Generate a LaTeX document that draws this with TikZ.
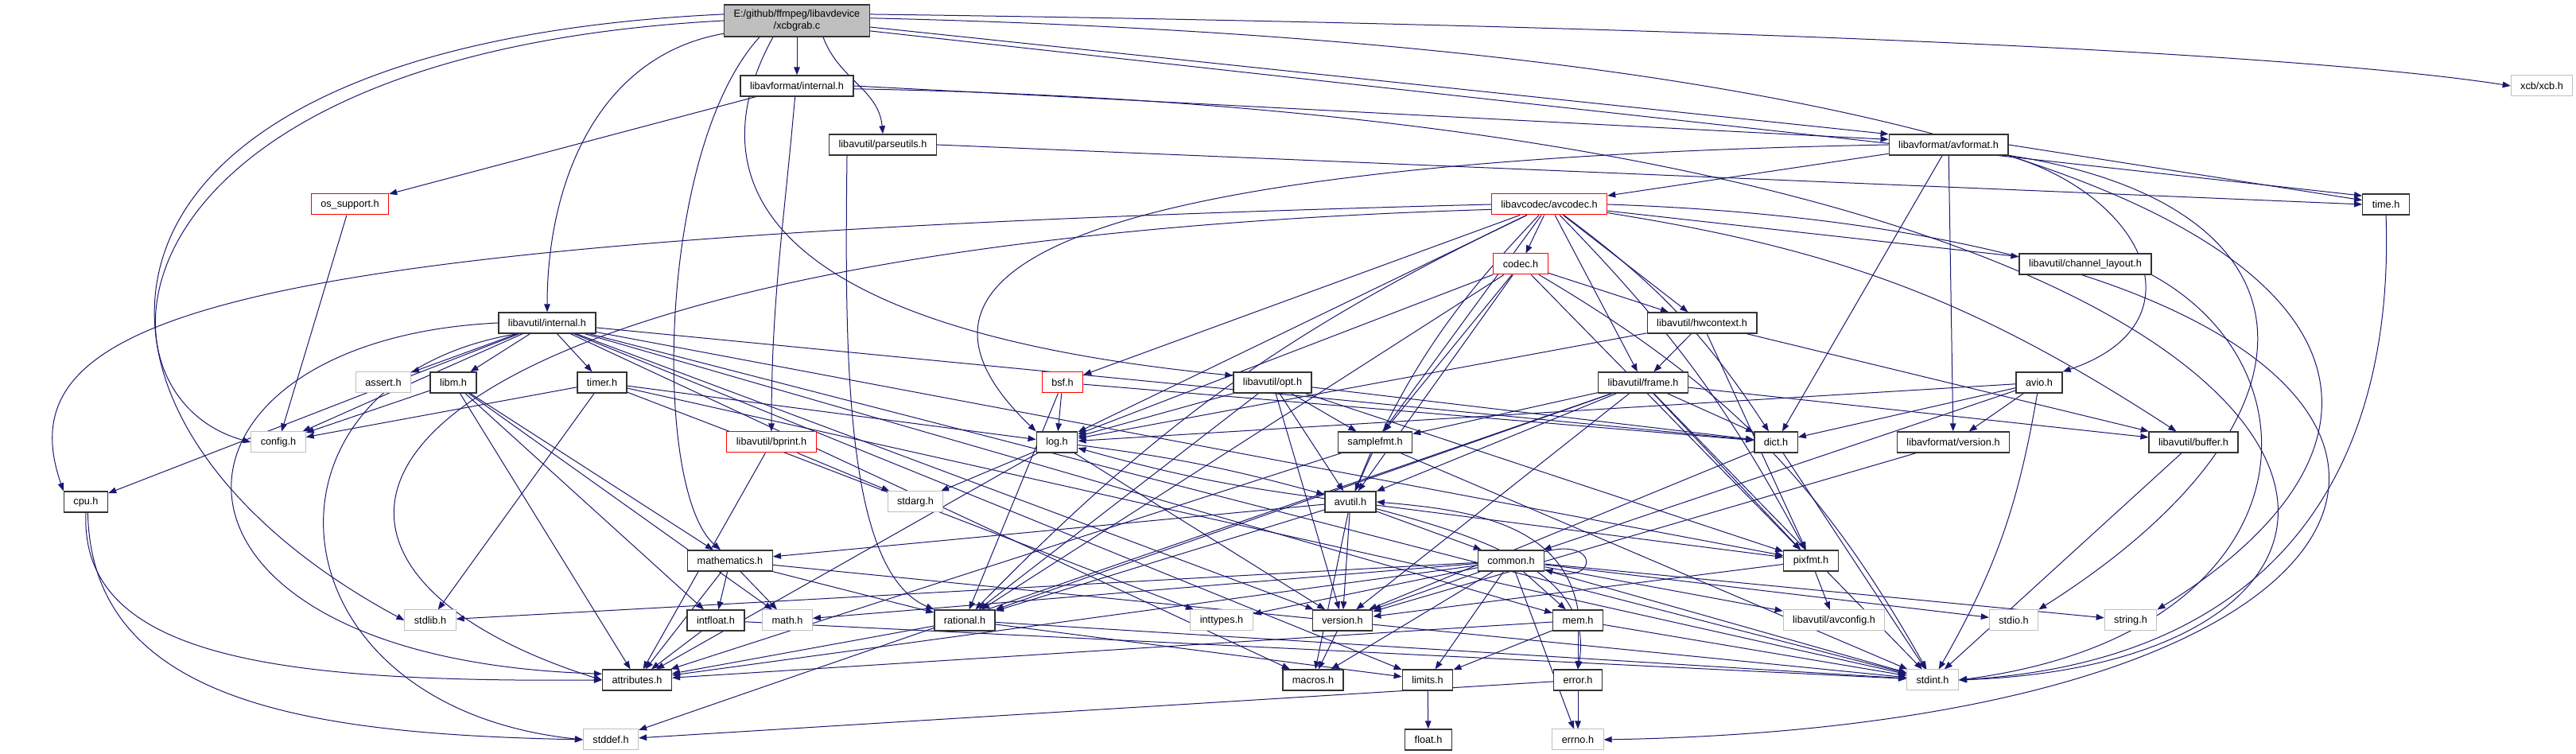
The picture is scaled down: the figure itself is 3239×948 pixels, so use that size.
\documentclass[tikz,border=0pt]{standalone}
\usepackage{fontspec}
\setmainfont{Liberation Sans}
\usepackage{xcolor}
\usepackage{tikz}
\usetikzlibrary{arrows.meta,positioning,backgrounds}
\definecolor{edgeblue}{HTML}{191970}
\definecolor{bk80}{HTML}{333333}
\definecolor{syslight}{HTML}{BFBFBF}
\definecolor{rootgray}{HTML}{BFBFBF}
\definecolor{cutred}{HTML}{FF0000}
\tikzset{
  hdrbox/.style={
    rectangle, draw=#1, fill=white, line width=0.33pt,
    minimum height=6.5pt, inner xsep=3pt, inner ysep=0.5pt,
    font=\fontsize{3.175}{3.75}\selectfont
  },
  hdrbox/.default=bk80,
  sysbox/.style={hdrbox=syslight, line width=0.25pt},
  cutbox/.style={hdrbox=cutred, line width=0.25pt},
  rootbox/.style={hdrbox, fill=rootgray, align=center, minimum height=10pt},
  dep/.style={
    -{Triangle[length=2.5pt,width=1.9pt]}, line width=0.25pt, color=edgeblue
  },
}

\begin{document}
\begin{tikzpicture}[x=0.25pt,y=0.25pt]
  \useasboundingbox (0,0) rectangle (3239,948);
  \node[rootbox] (root) at (1002,922) {E:/github/ffmpeg/libavdevice\\/xcbgrab.c};
  \node[hdrbox] (lavfint) at (1002,840) {libavformat/internal.h};
  \node[sysbox] (xcb) at (3196,840) {xcb/xcb.h};
  \node[hdrbox] (parseutils) at (1110,766) {libavutil/parseutils.h};
  \node[hdrbox] (avformat) at (2450,766) {libavformat/avformat.h};
  \node[cutbox] (ossupport) at (440,691) {os\_support.h};
  \node[cutbox] (avcodec) at (1948,691) {libavcodec/avcodec.h};
  \node[hdrbox] (timeh) at (3000,691) {time.h};
  \node[cutbox] (codec) at (1912,616) {codec.h};
  \node[hdrbox] (chlayout) at (2622,616) {libavutil/channel\_layout.h};
  \node[hdrbox] (lavuint) at (688,542) {libavutil/internal.h};
  \node[hdrbox] (hwctx) at (2140,542) {libavutil/hwcontext.h};
  \node[sysbox] (assert) at (482,467) {assert.h};
  \node[hdrbox] (libm) at (570,467) {libm.h};
  \node[hdrbox] (timer) at (757,467) {timer.h};
  \node[cutbox] (bsf) at (1336,467) {bsf.h};
  \node[hdrbox] (opt) at (1600,467) {libavutil/opt.h};
  \node[hdrbox] (frame) at (2066,467) {libavutil/frame.h};
  \node[hdrbox] (avio) at (2564,467) {avio.h};
  \node[sysbox] (config) at (350,392) {config.h};
  \node[cutbox] (bprint) at (970,392) {libavutil/bprint.h};
  \node[hdrbox] (log) at (1329,392) {log.h};
  \node[hdrbox] (samplefmt) at (1729,392) {samplefmt.h};
  \node[hdrbox] (dict) at (2233,392) {dict.h};
  \node[hdrbox] (lavfver) at (2456,392) {libavformat/version.h};
  \node[hdrbox] (buffer) at (2758,392) {libavutil/buffer.h};
  \node[hdrbox] (cpu) at (108,317) {cpu.h};
  \node[sysbox] (stdarg) at (1151,317) {stdarg.h};
  \node[hdrbox] (avutil) at (1698,317) {avutil.h};
  \node[hdrbox] (mathematics) at (918,243) {mathematics.h};
  \node[hdrbox] (common) at (1900,243) {common.h};
  \node[hdrbox] (pixfmt) at (2277,243) {pixfmt.h};
  \node[sysbox] (stdlib) at (541,168) {stdlib.h};
  \node[hdrbox] (intfloat) at (900,168) {intfloat.h};
  \node[sysbox] (mathh) at (990,168) {math.h};
  \node[hdrbox] (rational) at (1213,168) {rational.h};
  \node[sysbox] (inttypes) at (1536,168) {inttypes.h};
  \node[hdrbox] (version) at (1688,168) {version.h};
  \node[hdrbox] (mem) at (1984,168) {mem.h};
  \node[sysbox] (avconfig) at (2306,168) {libavutil/avconfig.h};
  \node[sysbox] (stdio) at (2532,168) {stdio.h};
  \node[sysbox] (string) at (2679,168) {string.h};
  \node[hdrbox] (attributes) at (801,93) {attributes.h};
  \node[hdrbox] (macros) at (1651,93) {macros.h};
  \node[hdrbox] (limits) at (1795,93) {limits.h};
  \node[hdrbox] (error) at (1984,93) {error.h};
  \node[sysbox] (stdint) at (2430,93) {stdint.h};
  \node[sysbox] (stddef) at (768,18) {stddef.h};
  \node[hdrbox] (floath) at (1796,18) {float.h};
  \node[sysbox] (errno) at (1984,18) {errno.h};
  \begin{scope}[on background layer]
    \fill[white] (0,0) rectangle (3239,948);
    \draw[dep] (root) -- (lavfint);
    \draw[dep] ([xshift=8.25pt]root.south) to[out=-70,in=95] (parseutils.north);
    \draw[dep] (root.190) to[out=190,in=90] (lavuint.north);
    \draw[dep] ([xshift=-11.75pt]root.south) .. controls (826,760) and (820,330) .. ([xshift=-3pt]mathematics.north);
    \draw[dep] ([xshift=-7.5pt]root.south) .. controls (894,760) and (890,540) .. (opt.170);
    \draw[dep] (root.180) .. controls (120,880) and (100,450) .. (config.west);
    \draw[dep] (root.175) .. controls (40,890) and (40,420) .. (stdlib.west);
    \draw[dep] (root.5) .. controls (2200,915) and (2900,880) .. (xcb.west);
    \draw[dep] (root.2) .. controls (3000,880) and (3150,450) .. (string.north east);
    \draw[dep] (root.-5) -- (avformat.170);
    \draw[dep] (root.-8) -- (timeh.160);
    \draw[dep] (lavfint) -- (ossupport);
    \draw[dep] (lavfint.-100) to[out=-95,in=90] (bprint.north);
    \draw[dep] (lavfint.east) -- (avformat.175);
    \draw[dep] (lavfint.-3) .. controls (3050,800) and (3180,120) .. (stdint.east);
    \draw[dep] (ossupport) -- (config);
    \draw[dep] ([xshift=-11.25pt]parseutils.south) .. controls (1062,500) and (1062,230) .. (rational.north west);
    \draw[dep] (parseutils.east) -- (timeh.west);
    \draw[dep] (avformat) -- (avcodec);
    \draw[dep] (avformat.west) .. controls (1300,745) and (1100,600) .. (log.north west);
    \draw[dep] (avformat) -- (dict);
    \draw[dep] (avformat) -- (lavfver);
    \draw[dep] (avformat.south east) .. controls (2700,700) and (2770,540) .. (avio.north east);
    \draw[dep] (avformat.east) -- (timeh.170);
    \draw[dep] (avformat.-10) .. controls (2930,690) and (2940,420) .. (stdio.north east);
    \draw[dep] (avcodec) -- (codec);
    \draw[dep] (avcodec.west) .. controls (300,650) and (0,560) .. (cpu.north west);
    \draw[dep] (avcodec.185) .. controls (400,640) and (260,250) .. (attributes.west);
    \draw[dep] (avcodec) -- (log);
    \draw[dep] (avcodec) to[bend right=10] (rational);
    \draw[dep] (avcodec) -- (bsf);
    \draw[dep] (avcodec) -- (samplefmt);
    \draw[dep] (avcodec) to[bend right=10] (avutil);
    \draw[dep] (avcodec) -- (frame);
    \draw[dep] (avcodec) -- (hwctx);
    \draw[dep] (avcodec) -- (chlayout);
    \draw[dep] (avcodec) to[bend left=10] (dict);
    \draw[dep] (avcodec) to[bend left=12] (buffer);
    \draw[dep] (avcodec) to[bend left=8] (pixfmt);
    \draw[dep] (avcodec.east) .. controls (3230,650) and (3230,40) .. (errno.east);
    \draw[dep] (codec) to[bend left=15] (stdint);
    \draw[dep] (codec) -- (avutil);
    \draw[dep] (codec) -- (hwctx);
    \draw[dep] (codec) -- (log);
    \draw[dep] (codec) -- (pixfmt);
    \draw[dep] (codec) -- (rational);
    \draw[dep] (codec) -- (samplefmt);
    \draw[dep] (bsf) -- (log);
    \draw[dep] (bsf) -- (rational);
    \draw[dep] (bsf) -- (dict);
    \draw[dep] (opt) -- (rational);
    \draw[dep] (opt) -- (avutil);
    \draw[dep] (opt) -- (dict);
    \draw[dep] (opt) -- (log);
    \draw[dep] (opt) -- (pixfmt);
    \draw[dep] (opt) -- (samplefmt);
    \draw[dep] (opt) -- (version);
    \draw[dep] (frame) -- (stddef);
    \draw[dep] (frame) -- (stdint);
    \draw[dep] (frame) -- (avutil);
    \draw[dep] (frame) -- (buffer);
    \draw[dep] (frame) -- (dict);
    \draw[dep] (frame) -- (rational);
    \draw[dep] (frame) -- (samplefmt);
    \draw[dep] (frame) -- (pixfmt);
    \draw[dep] (frame) -- (version);
    \draw[dep] (hwctx) -- (buffer);
    \draw[dep] (hwctx) -- (frame);
    \draw[dep] (hwctx) -- (log);
    \draw[dep] (hwctx) -- (pixfmt);
    \draw[dep] (chlayout.south east) .. controls (2930,480) and (2900,150) .. (stdint.east);
    \draw[dep] (avio) to[bend left=10] (stdint);
    \draw[dep] (avio) -- (common);
    \draw[dep] (avio) -- (dict);
    \draw[dep] (avio) -- (log);
    \draw[dep] (avio) -- (lavfver);
    \draw[dep] (dict) -- (stdint);
    \draw[dep] (dict) -- (version);
    \draw[dep] (lavfver) -- (version);
    \draw[dep] (buffer) -- (stdint);
    \draw[dep] (lavuint) -- (limits);
    \draw[dep] (lavuint) -- (stdint);
    \draw[dep] (lavuint.200) .. controls (300,470) and (330,60) .. (stddef.west);
    \draw[dep] (lavuint) -- (assert);
    \draw[dep] (lavuint) -- (config);
    \draw[dep] (lavuint.west) .. controls (170,520) and (150,120) .. (attributes.170);
    \draw[dep] (lavuint) -- (timer);
    \draw[dep] (lavuint) -- (cpu);
    \draw[dep] (lavuint) -- (dict);
    \draw[dep] (lavuint) -- (macros);
    \draw[dep] (lavuint) -- (mem);
    \draw[dep] (lavuint) -- (pixfmt);
    \draw[dep] (lavuint) -- (version);
    \draw[dep] (lavuint) -- (libm);
    \draw[dep] (libm) -- (config);
    \draw[dep] (libm) -- (attributes);
    \draw[dep] (libm) -- (intfloat);
    \draw[dep] (libm) -- (mathematics);
    \draw[dep] (libm) -- (mathh);
    \draw[dep] (timer) -- (config);
    \draw[dep] (timer) -- (stdlib);
    \draw[dep] (timer) -- (stdint);
    \draw[dep] (timer) -- (inttypes);
    \draw[dep] (timer) -- (log);
    \draw[dep] (bprint) -- (stdarg);
    \draw[dep] (bprint) -- (attributes);
    \draw[dep] (log) -- (stdarg);
    \draw[dep] (log) to[bend left=4] (avutil);
    \draw[dep] (log) -- (attributes);
    \draw[dep] (log) -- (version);
    \draw[dep] (samplefmt) -- (stdint);
    \draw[dep] (samplefmt) -- (avutil);
    \draw[dep] (samplefmt) -- (attributes);
    \draw[dep] (avutil) -- (common);
    \draw[dep] (avutil.-15) to[out=-15,in=80] (error.north);
    \draw[dep] (avutil) -- (rational);
    \draw[dep] (avutil) -- (version);
    \draw[dep] (avutil) -- (macros);
    \draw[dep] (avutil) -- (mathematics);
    \draw[dep] (avutil) to[bend left=4] (log);
    \draw[dep] (avutil) -- (pixfmt);
    \draw[dep] (mathematics) -- (stdint);
    \draw[dep] (mathematics) -- (mathh);
    \draw[dep] (mathematics) -- (attributes);
    \draw[dep] (mathematics) -- (rational);
    \draw[dep] (mathematics) -- (intfloat);
    \draw[dep] (common) -- (errno);
    \draw[dep] (common) -- (inttypes);
    \draw[dep] (common) -- (limits);
    \draw[dep] (common) -- (mathh);
    \draw[dep] (common) -- (stdint);
    \draw[dep] (common) -- (stdio);
    \draw[dep] (common) -- (stdlib);
    \draw[dep] (common) -- (string);
    \draw[dep] (common) -- (attributes);
    \draw[dep] (common) -- (macros);
    \draw[dep] (common) -- (version);
    \draw[dep] (common) -- (avconfig);
    \draw[dep] (common) -- (mem);
    \draw[dep] (common.15) to[out=15,in=-15,looseness=8] (common.-15);
    \draw[dep] (mem) -- (limits);
    \draw[dep] (mem) -- (stdint);
    \draw[dep] (mem) -- (attributes);
    \draw[dep] (mem) -- (error);
    \draw[dep] (mem.north) to[out=100,in=-5] (avutil.east);
    \draw[dep] (error) -- (errno);
    \draw[dep] (error) -- (stddef);
    \draw[dep] (rational) -- (stdint);
    \draw[dep] (rational) -- (limits);
    \draw[dep] (rational) -- (attributes);
    \draw[dep] (version) -- (macros);
    \draw[dep] (limits) -- (floath);
    \draw[dep] (intfloat) -- (stdint);
    \draw[dep] (intfloat) -- (attributes);
    \draw[dep] (pixfmt) -- (avconfig);
    \draw[dep] (pixfmt) -- (version);
    \draw[dep] (timeh.south) .. controls (3010,400) and (2900,120) .. (stdint.east);
    \draw[dep] (cpu.south) .. controls (100,120) and (350,90) .. (attributes.west);
    \draw[dep] (cpu.-80) .. controls (115,60) and (400,25) .. (stddef.west);
  \end{scope}
\end{tikzpicture}
\end{document}
